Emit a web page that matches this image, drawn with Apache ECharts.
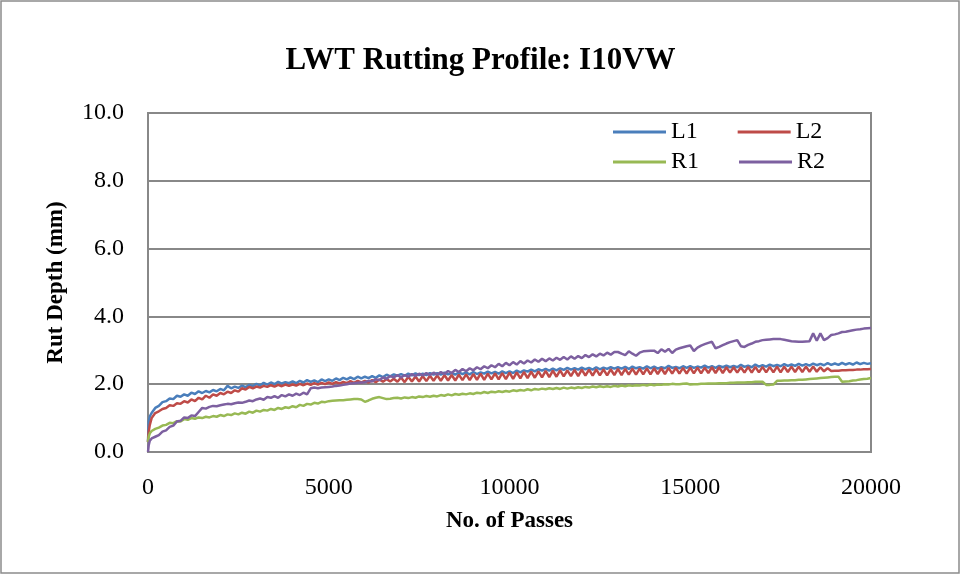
<!DOCTYPE html>
<html>
<head>
<meta charset="utf-8">
<script src="https://cdn.jsdelivr.net/npm/echarts@6/dist/echarts.min.js"></script>
<style>
html,body{margin:0;padding:0;background:#fff;}
#chart{width:961px;height:575px;}
</style>
</head>
<body>
<div id="chart"></div>
<script>
const titleText = 'LWT Rutting Profile: I10VW';
const seriesNames = ['L1', 'L2', 'R1', 'R2'];
const xTicks = [0, 5000, 10000, 15000, 20000];
const yTicks = [0, 2, 4, 6, 8, 10];

const passes = [0,20,50,100,200,300,400,500,600,700,800,900,
1000,1100,1200,1300,1400,1500,1600,1700,1800,1900,
2000,2100,2200,2300,2400,2500,2600,2700,2800,2900,
3000,3100,3200,3300,3400,3500,3600,3700,3800,3900,
4000,4100,4200,4300,4400,4500,4600,4700,4800,4900,
5000,5100,5200,5300,5400,5500,5600,5700,5800,5900,
6000,6100,6200,6300,6400,6500,6600,6700,6800,6900,
7000,7100,7200,7300,7400,7500,7600,7700,7800,7900,
8000,8100,8200,8300,8400,8500,8600,8700,8800,8900,
9000,9100,9200,9300,9400,9500,9600,9700,9800,9900,
10000,10100,10200,10300,10400,10500,10600,10700,10800,10900,
11000,11100,11200,11300,11400,11500,11600,11700,11800,11900,
12000,12100,12200,12300,12400,12500,12600,12700,12800,12900,
13000,13100,13200,13300,13400,13500,13600,13700,13800,13900,
14000,14100,14200,14300,14400,14500,14600,14700,14800,14900,
15000,15100,15200,15300,15400,15500,15600,15700,15800,15900,
16000,16100,16200,16300,16400,16500,16600,16700,16800,16900,
17000,17100,17200,17300,17400,17500,17600,17700,17800,17900,
18000,18100,18200,18300,18400,18500,18600,18700,18800,18900,
19000,19100,19200,19300,19400,19500,19600,19700,19800,19900,
20000];

const L1 = [0.3,0.9,1.05,1.15,1.3,1.36,1.47,1.5,1.58,1.56,1.66,1.63,
1.7,1.66,1.75,1.71,1.79,1.74,1.8,1.76,1.83,1.79,
1.86,1.82,1.95,1.88,1.93,1.89,1.96,1.91,1.98,1.94,
2.01,1.96,2.04,1.99,2.05,2.0,2.07,2.02,2.06,2.03,
2.08,2.03,2.1,2.05,2.12,2.07,2.11,2.06,2.14,2.09,
2.14,2.1,2.17,2.12,2.19,2.14,2.2,2.15,2.22,2.17,
2.22,2.18,2.24,2.19,2.26,2.21,2.28,2.23,2.29,2.25,
2.3,2.25,2.31,2.26,2.32,2.27,2.31,2.27,2.33,2.28,
2.33,2.28,2.34,2.29,2.33,2.28,2.35,2.3,2.34,2.29,
2.36,2.3,2.35,2.31,2.37,2.32,2.36,2.31,2.38,2.33,
2.38,2.33,2.4,2.35,2.41,2.37,2.43,2.38,2.44,2.4,
2.45,2.4,2.46,2.41,2.47,2.42,2.48,2.43,2.47,2.43,
2.49,2.44,2.48,2.43,2.5,2.44,2.49,2.45,2.5,2.46,
2.5,2.46,2.51,2.45,2.52,2.47,2.5,2.46,2.53,2.47,
2.52,2.46,2.5,2.47,2.54,2.48,2.51,2.47,2.53,2.48,
2.53,2.48,2.52,2.49,2.55,2.49,2.53,2.48,2.54,2.5,
2.55,2.5,2.54,2.5,2.57,2.51,2.55,2.5,2.58,2.52,
2.56,2.52,2.58,2.53,2.57,2.53,2.59,2.54,2.58,2.54,
2.6,2.55,2.59,2.55,2.61,2.56,2.6,2.56,2.62,2.57,
2.61,2.57,2.63,2.58,2.62,2.58,2.64,2.59,2.63,2.6,
2.62];

const L2 = [0.3,0.6,0.8,1.0,1.15,1.2,1.27,1.3,1.38,1.36,1.44,1.42,
1.5,1.46,1.55,1.5,1.6,1.55,1.66,1.6,1.7,1.66,
1.74,1.7,1.78,1.74,1.82,1.78,1.88,1.84,1.92,1.88,
1.93,1.9,1.95,1.92,1.97,1.93,1.98,1.94,1.99,1.95,
1.99,1.96,2.01,1.97,2.02,1.98,2.03,1.99,2.04,2.0,
2.05,2.01,2.06,2.02,2.07,2.03,2.09,2.04,2.1,2.05,
2.1,2.05,2.12,2.06,2.14,2.07,2.15,2.08,2.16,2.07,
2.2,2.06,2.22,2.08,2.23,2.08,2.24,2.09,2.25,2.1,
2.26,2.1,2.27,2.11,2.27,2.11,2.28,2.12,2.29,2.12,
2.3,2.13,2.31,2.13,2.31,2.14,2.32,2.14,2.33,2.15,
2.34,2.16,2.35,2.17,2.36,2.18,2.37,2.19,2.38,2.2,
2.39,2.21,2.4,2.22,2.41,2.23,2.41,2.24,2.42,2.24,
2.43,2.25,2.43,2.25,2.44,2.26,2.44,2.26,2.44,2.27,
2.45,2.27,2.45,2.28,2.46,2.28,2.46,2.29,2.47,2.29,
2.47,2.3,2.47,2.3,2.48,2.31,2.48,2.31,2.48,2.31,
2.49,2.32,2.49,2.32,2.49,2.33,2.5,2.33,2.5,2.33,
2.5,2.34,2.5,2.34,2.5,2.34,2.51,2.34,2.51,2.35,
2.51,2.35,2.51,2.35,2.52,2.35,2.52,2.36,2.52,2.36,
2.52,2.36,2.52,2.37,2.52,2.37,2.5,2.38,2.47,2.39,
2.4,2.4,2.41,2.41,2.42,2.42,2.43,2.43,2.44,2.44,
2.45];

const R1 = [0.3,0.45,0.55,0.62,0.68,0.72,0.78,0.8,0.86,0.85,0.91,0.9,
0.97,0.95,1.0,0.98,1.02,1.0,1.04,1.02,1.06,1.04,
1.09,1.06,1.11,1.09,1.14,1.11,1.16,1.13,1.19,1.16,
1.22,1.19,1.24,1.22,1.27,1.24,1.3,1.27,1.32,1.3,
1.35,1.32,1.39,1.36,1.42,1.4,1.45,1.43,1.48,1.47,
1.5,1.51,1.52,1.53,1.53,1.54,1.55,1.56,1.56,1.55,
1.48,1.52,1.57,1.6,1.62,1.59,1.56,1.57,1.59,1.6,
1.58,1.61,1.59,1.62,1.6,1.64,1.62,1.65,1.63,1.66,
1.64,1.68,1.66,1.7,1.67,1.71,1.69,1.72,1.7,1.73,
1.71,1.75,1.73,1.77,1.74,1.78,1.76,1.79,1.77,1.8,
1.78,1.82,1.8,1.83,1.81,1.85,1.82,1.86,1.84,1.87,
1.85,1.88,1.86,1.89,1.86,1.9,1.87,1.9,1.88,1.91,
1.89,1.92,1.9,1.93,1.91,1.94,1.92,1.94,1.92,1.95,
1.93,1.96,1.94,1.97,1.95,1.97,1.96,1.98,1.96,1.99,
1.97,1.99,1.98,2.0,1.99,2.01,2.0,2.0,2.01,2.02,
1.99,2.0,2.0,2.01,2.01,2.02,2.02,2.02,2.03,2.03,
2.03,2.04,2.04,2.05,2.05,2.05,2.06,2.06,2.07,2.07,
2.07,1.98,1.98,1.99,2.1,2.1,2.11,2.11,2.12,2.12,
2.13,2.13,2.14,2.15,2.16,2.17,2.18,2.19,2.2,2.21,
2.22,2.22,2.07,2.08,2.09,2.11,2.12,2.14,2.15,2.16,
2.18];

const R2 = [0.0,0.2,0.33,0.4,0.45,0.5,0.6,0.64,0.74,0.78,0.9,0.92,
1.02,1.0,1.08,1.06,1.18,1.3,1.28,1.33,1.36,1.35,
1.38,1.4,1.42,1.41,1.44,1.46,1.45,1.48,1.52,1.5,
1.55,1.58,1.54,1.62,1.6,1.65,1.6,1.68,1.64,1.7,
1.66,1.72,1.68,1.75,1.7,1.88,1.9,1.88,1.9,1.91,
1.92,1.93,1.95,1.96,1.98,2.0,2.02,2.03,2.04,2.05,
2.06,2.1,2.08,2.15,2.12,2.2,2.16,2.24,2.2,2.27,
2.2,2.27,2.22,2.3,2.24,2.31,2.26,2.33,2.27,2.34,
2.28,2.36,2.3,2.39,2.33,2.42,2.36,2.45,2.38,2.47,
2.41,2.5,2.44,2.53,2.47,2.56,2.5,2.6,2.53,2.63,
2.56,2.65,2.58,2.68,2.61,2.7,2.64,2.73,2.66,2.75,
2.68,2.76,2.7,2.78,2.72,2.8,2.73,2.82,2.75,2.83,
2.77,2.86,2.8,2.88,2.82,2.9,2.85,2.93,2.87,2.95,
2.95,2.9,2.86,2.97,2.9,2.84,2.93,2.97,2.98,2.99,
2.99,2.92,3.03,2.96,3.04,2.92,3.02,3.06,3.09,3.12,
3.14,2.98,3.08,3.14,3.18,3.22,3.25,3.06,3.1,3.15,
3.2,3.24,3.27,3.3,3.12,3.1,3.16,3.2,3.25,3.27,
3.3,3.31,3.32,3.33,3.33,3.33,3.31,3.29,3.27,3.26,
3.25,3.25,3.26,3.27,3.5,3.28,3.5,3.3,3.36,3.45,
3.47,3.5,3.54,3.55,3.57,3.59,3.61,3.62,3.64,3.65,
3.66];

const colors = ['#4A7EBB', '#BE4B48', '#98B954', '#7D60A0'];
const values = [L1, L2, R1, R2];
const FONT = '"Liberation Serif", "Times New Roman", serif';

const chart = echarts.init(document.getElementById('chart'), null, {renderer: 'canvas'});

const legendCommon = {
  itemWidth: 53,
  itemHeight: 3,
  itemGap: 40,
  icon: 'rect',
  textStyle: {fontFamily: FONT, fontSize: 24, color: '#000', padding: [0,0,0,0]},
  selectedMode: false,
  orient: 'horizontal',
  padding: 0
};

chart.setOption({
  animation: false,
  backgroundColor: '#fff',
  color: colors,
  graphic: [{
    type: 'rect',
    shape: {x: 1, y: 1, width: 958, height: 572},
    style: {fill: 'none', stroke: '#8c8c8c', lineWidth: 1.5},
    silent: true
  }],
  title: {
    text: titleText,
    left: 'center',
    top: 40,
    textStyle: {fontFamily: FONT, fontSize: 31, fontWeight: 'bold', color: '#000'}
  },
  legend: [
    Object.assign({}, legendCommon, {data: [seriesNames[0], seriesNames[1]], left: 613, top: 120}),
    Object.assign({}, legendCommon, {data: [seriesNames[2], seriesNames[3]], left: 613, top: 150})
  ],
  grid: {
    left: 148, top: 113, width: 723, height: 339,
    show: true, borderColor: '#888', borderWidth: 2, backgroundColor: 'transparent'
  },
  xAxis: {
    type: 'value',
    min: xTicks[0], max: xTicks[xTicks.length - 1], interval: xTicks[1] - xTicks[0],
    name: 'No. of Passes',
    nameLocation: 'middle',
    nameGap: 58,
    nameTextStyle: {fontFamily: FONT, fontSize: 23, fontWeight: 'bold', color: '#000'},
    axisLine: {show: true, lineStyle: {color: '#888', width: 2}},
    axisTick: {show: false},
    splitLine: {show: false},
    axisLabel: {fontFamily: FONT, fontSize: 24, color: '#000', margin: 24,
      formatter: v => String(v)}
  },
  yAxis: {
    type: 'value',
    min: yTicks[0], max: yTicks[yTicks.length - 1], interval: yTicks[1] - yTicks[0],
    name: 'Rut Depth (mm)',
    nameLocation: 'middle',
    nameGap: 80,
    nameTextStyle: {fontFamily: FONT, fontSize: 23, fontWeight: 'bold', color: '#000'},
    axisLine: {show: true, lineStyle: {color: '#888', width: 2}},
    axisTick: {show: false},
    splitLine: {show: true, lineStyle: {color: '#888', width: 2}},
    axisLabel: {fontFamily: FONT, fontSize: 24, color: '#000', margin: 24,
      formatter: v => v.toFixed(1)}
  },
  series: seriesNames.map((name, k) => ({
    name: name,
    type: 'line',
    showSymbol: false,
    symbol: 'none',
    lineStyle: {width: 2.5, color: colors[k]},
    itemStyle: {color: colors[k]},
    data: passes.map((p, i) => [p, values[k][i]])
  }))
});
</script>
</body>
</html>
